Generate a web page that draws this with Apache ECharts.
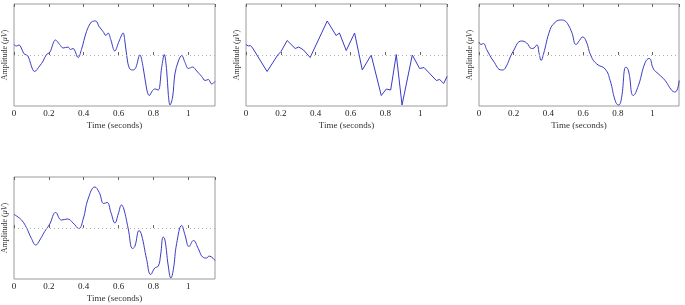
<!DOCTYPE html>
<html><head><meta charset="utf-8">
<script src="https://cdn.jsdelivr.net/npm/echarts@6/dist/echarts.min.js"></script>
<style>html,body{margin:0;padding:0;background:#fff}#c{width:685px;height:305px}</style>
</head><body><div id="c"></div>
<script>
const tickLabels = ['0','0.2','0.4','0.6','0.8','1'];
const t1 = [0,0.013,0.029,0.042,0.056,0.071,0.08,0.119,0.147,0.167,0.186,0.205,0.238,0.262,0.282,0.31,0.324,0.339,0.368,0.387,0.416,0.444,0.469,0.488,0.511,0.527,0.54,0.555,0.578,0.603,0.626,0.636,0.651,0.665,0.684,0.699,0.722,0.741,0.761,0.776,0.795,0.808,0.828,0.847,0.862,0.876,0.885,0.895,0.91,0.923,0.943,0.962,0.981,1.0,1.025,1.048,1.077,1.096,1.115,1.134,1.153];
const v1 = [0.21,0.18,0.2,0.14,0.03,0,-0.02,-0.33,-0.22,-0.12,0.01,0.05,0.3,0.21,0.14,0.16,0.11,0.13,-0.05,0.11,0.47,0.66,0.68,0.57,0.47,0.39,0.44,0.31,0.08,0.28,0.44,0.28,-0.12,-0.28,-0.3,-0.25,0,-0.25,-0.68,-0.81,-0.71,-0.68,-0.7,-0.25,0.01,-0.32,-0.78,-1.0,-0.84,-0.38,-0.12,-0.01,-0.15,-0.27,-0.24,-0.32,-0.43,-0.51,-0.49,-0.58,-0.53];
const t2 = [0,0.013,0.025,0.038,0.121,0.182,0.201,0.236,0.282,0.303,0.33,0.368,0.466,0.517,0.536,0.575,0.623,0.667,0.718,0.776,0.805,0.83,0.862,0.895,0.954,0.996,1.021,1.092,1.111,1.134,1.153];
const v2 = [0.21,0.18,0.19,0.14,-0.33,0,0.07,0.29,0.13,0.16,0.1,-0.05,0.68,0.39,0.44,0.09,0.44,-0.3,0,-0.81,-0.68,-0.7,0.01,-1.0,0,-0.27,-0.25,-0.51,-0.49,-0.57,-0.43];
const t3 = [0,0.012,0.025,0.044,0.083,0.131,0.15,0.198,0.246,0.275,0.304,0.317,0.333,0.348,0.358,0.371,0.41,0.435,0.455,0.475,0.496,0.515,0.535,0.56,0.579,0.598,0.617,0.646,0.679,0.727,0.756,0.785,0.804,0.819,0.848,0.862,0.89,0.919,0.958,0.981,1.006,1.035,1.073,1.112,1.131,1.154];
const v3 = [0.26,0.21,0.23,0.11,-0.12,-0.3,-0.27,0.08,0.28,0.24,0.13,0.14,0.2,0.01,-0.11,0.01,0.51,0.64,0.69,0.7,0.68,0.6,0.45,0.21,0.29,0.36,0.28,-0.02,-0.18,-0.28,-0.51,-0.91,-1.0,-0.91,-0.24,-0.32,-0.81,-0.61,-0.15,-0.07,-0.28,-0.38,-0.51,-0.71,-0.74,-0.51];
const t4 = [0,0.023,0.048,0.071,0.1,0.125,0.148,0.176,0.205,0.239,0.272,0.307,0.339,0.372,0.397,0.425,0.464,0.489,0.515,0.534,0.556,0.579,0.598,0.617,0.63,0.655,0.68,0.693,0.718,0.732,0.761,0.784,0.808,0.828,0.841,0.856,0.866,0.885,0.9,0.914,0.933,0.962,0.981,1.004,1.029,1.057,1.082,1.105,1.119,1.153];
const v4 = [0.27,0.22,0.14,0.01,-0.21,-0.34,-0.24,-0.07,0.08,0.31,0.16,0.18,0.1,-0.01,0.18,0.58,0.82,0.71,0.49,0.51,0.31,0.1,0.28,0.46,0.38,-0.01,-0.41,-0.37,-0.05,-0.14,-0.63,-0.93,-0.8,-0.76,-0.54,-0.18,-0.24,-0.76,-1.0,-0.83,-0.31,0.05,-0.14,-0.37,-0.25,-0.41,-0.58,-0.6,-0.56,-0.65];

const panels = [
  {t:t1, v:v1, left:14, top:4, width:201, height:102, smooth:0.35},
  {t:t2, v:v2, left:246, top:4, width:201, height:102, smooth:false},
  {t:t3, v:v3, left:479, top:4, width:200, height:102, smooth:0.5},
  {t:t4, v:v4, left:14, top:177, width:201, height:102, smooth:0.45}
];
const font = '"Liberation Serif","DejaVu Serif",serif';
const option = {animation:false, grid:[], xAxis:[], yAxis:[], series:[]};
panels.forEach((p,i)=>{
  option.grid.push({left:p.left, top:p.top, width:p.width, height:p.height, show:true, borderColor:'#9a9a9a', borderWidth:1, backgroundColor:'#fff'});
  option.xAxis.push({type:'value', gridIndex:i, min:0, max:1.153, interval:0.2, position:'bottom',
    name:'Time (seconds)', nameLocation:'middle', nameGap:15,
    nameTextStyle:{fontFamily:font, fontSize:9, color:'#333'},
    axisLine:{show:false}, axisTick:{inside:true, length:3, lineStyle:{color:'#666'}},
    splitLine:{show:false},
    axisLabel:{fontFamily:font, fontSize:9, color:'#222', margin:3, showMaxLabel:false,
      formatter:(val)=>{const k=Math.round(val/0.2); return tickLabels[k]!==undefined?tickLabels[k]:'';}}});
  option.xAxis.push({type:'value', gridIndex:i, min:0, max:1.153, interval:0.2, position:'top',
    axisLine:{show:false}, axisTick:{inside:true, length:3, lineStyle:{color:'#666'}},
    splitLine:{show:false}, axisLabel:{show:false}});
  option.yAxis.push({type:'value', gridIndex:i, min:-1.02, max:1.02,
    name:'Amplitude ({i|μV})', nameLocation:'middle', nameGap:5, nameRotate:90,
    nameTextStyle:{fontFamily:font, fontSize:8, color:'#333', rich:{i:{fontFamily:font, fontSize:8, fontStyle:'italic', color:'#333'}}},
    axisLine:{show:false}, axisTick:{show:false}, axisLabel:{show:false}, splitLine:{show:false}});
  option.series.push({type:'line', xAxisIndex:2*i, yAxisIndex:i, data:p.t.map((x,k)=>[x,p.v[k]]),
    showSymbol:false, smooth:p.smooth, lineStyle:{color:'#3b3bc4', width:1}, silent:true,
    markLine:{silent:true, symbol:'none', label:{show:false},
      lineStyle:{color:'#b0b0b0', type:[1,3], width:1}, data:[{yAxis:0}]}});
});
const chart = echarts.init(document.getElementById('c'), null, {renderer:'canvas'});
chart.setOption(option);
</script></body></html>
